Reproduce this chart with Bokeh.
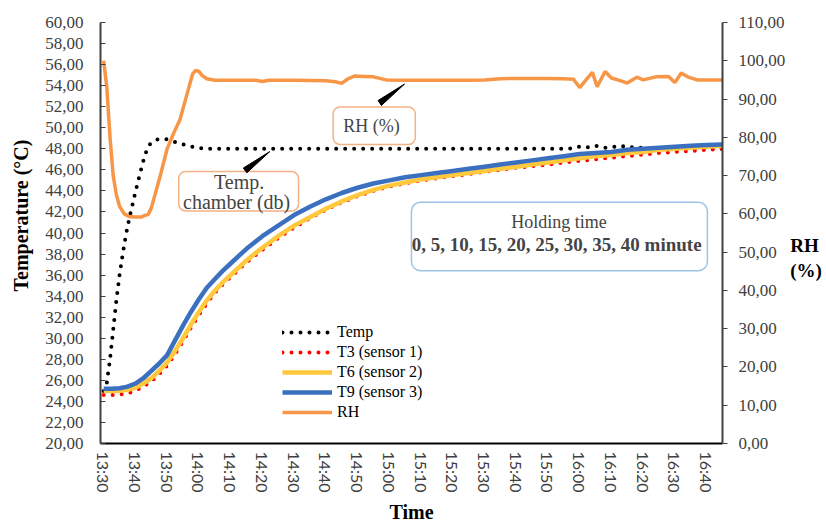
from bokeh.plotting import figure
from bokeh.models import (Range1d, LinearAxis, FixedTicker, Legend, LegendItem,
                          BoxAnnotation, Label, PolyAnnotation)
from bokeh.embed import file_html
from bokeh.resources import INLINE

# ---------------- data (minutes after 13:30) ----------------
TIME_TICKS = list(range(0, 200, 10))
TIME_LABELS = ["13:30", "13:40", "13:50", "14:00", "14:10", "14:20", "14:30",
               "14:40", "14:50", "15:00", "15:10", "15:20", "15:30", "15:40",
               "15:50", "16:00", "16:10", "16:20", "16:30", "16:40"]
TEMP_TICKS = list(range(20, 61, 2))
RH_TICKS = list(range(0, 111, 10))

TEMP_MIN = [0, 1, 2, 3, 4, 5, 6, 7, 8, 9, 10, 11, 12, 13, 14, 15, 17, 20, 24, 28, 32,
            40, 50, 60, 70, 80, 90, 100, 110, 120, 130, 140,
            145, 148, 150, 152, 155, 158, 160, 163, 165, 168, 170, 175, 180, 185, 190, 195]
TEMP_VAL = [25.0, 25.8, 28.0, 30.8, 33.6, 36.0, 38.0, 39.8, 41.3, 42.6, 43.9, 45.1, 46.3, 47.4, 48.2, 48.6,
            48.9, 48.9, 48.5, 48.2, 48.0,
            48.0, 48.0, 48.0, 48.0, 48.0, 48.0, 48.0, 48.0, 48.0, 48.0, 48.0,
            48.0, 48.05, 48.2, 48.1, 48.3, 48.1, 48.15, 48.3, 48.1, 48.2, 48.05, 48.0, 48.0, 48.0, 48.0, 48.0]

SENSOR_MIN = [0, 2.5, 5, 7.5, 10, 12.5, 15, 17.5, 20, 22.5, 25, 27.5, 30, 32.5, 35, 37.5,
              40, 42.5, 45, 47.5, 50,
              55, 60, 65, 70, 75, 80, 85, 90, 95, 100, 105, 110, 115, 120, 125, 130,
              135, 140, 145, 150, 155, 160, 165, 170, 175, 180, 185, 190, 195]
T3 = [24.6, 24.6, 24.65, 24.75, 25.0, 25.4, 25.9, 26.6, 27.4, 28.5, 29.7, 31.0, 32.2, 33.3, 34.3, 35.1,
      35.8, 36.5, 37.2, 37.8, 38.4,
      39.5, 40.5, 41.4, 42.2, 42.9, 43.5, 44.0, 44.4, 44.7, 45.0, 45.2, 45.4, 45.6, 45.8, 46.0, 46.2,
      46.35, 46.5, 46.7, 46.85, 47.0, 47.15, 47.3, 47.45, 47.6, 47.7, 47.8, 47.9, 48.0]
T6 = [25.0, 25.0, 25.0, 25.1, 25.3, 25.7, 26.2, 26.9, 27.7, 28.8, 30.0, 31.3, 32.5, 33.6, 34.5, 35.3,
      36.0, 36.7, 37.4, 38.0, 38.6,
      39.7, 40.7, 41.5, 42.3, 43.0, 43.6, 44.1, 44.5, 44.8, 45.1, 45.3, 45.5, 45.7, 45.9, 46.1, 46.3,
      46.5, 46.7, 46.9, 47.1, 47.3, 47.4, 47.6, 47.7, 47.9, 48.0, 48.1, 48.2, 48.3]
T9 = [25.2, 25.2, 25.25, 25.4, 25.7, 26.2, 26.9, 27.6, 28.4, 29.8, 31.2, 32.5, 33.7, 34.8, 35.6, 36.4,
      37.1, 37.8, 38.5, 39.1, 39.7,
      40.7, 41.7, 42.5, 43.2, 43.8, 44.3, 44.7, 45.0, 45.3, 45.5, 45.7, 45.9, 46.1, 46.3, 46.5, 46.7,
      46.9, 47.1, 47.3, 47.5, 47.6, 47.7, 47.9, 48.0, 48.1, 48.2, 48.3, 48.35, 48.4]

RH_MIN = [0, 1, 2, 3, 4, 5, 6.5, 8, 10, 12,
          13, 14, 15, 16, 17, 18, 20, 22, 24, 26,
          27, 28, 29, 30, 31, 32.5, 35, 40, 45, 48,
          50, 52, 60, 70, 73, 75, 77, 79, 82, 85,
          87, 89, 95, 105, 115, 120, 125, 130, 140, 145,
          148, 150, 152, 154, 155.5, 158, 160, 162, 165, 168,
          170, 174, 178, 180, 182, 184, 187, 195]
RH_VAL = [100, 93, 80, 70, 65, 62, 60, 59.3, 59.2, 59.2,
          59.6, 59.8, 61.5, 64.5, 67.5, 70.5, 77, 81, 84.5, 90.5,
          93.5, 96.5, 97.5, 97.2, 96.2, 95.3, 94.9, 94.9, 94.9, 94.9,
          94.6, 94.9, 94.9, 94.8, 94.5, 94.1, 95.3, 96.0, 95.9, 95.8,
          95.4, 95.0, 94.9, 94.9, 94.9, 95.0, 95.3, 95.4, 95.4, 95.3,
          95.2, 93.0, 95.0, 97.0, 93.2, 97.2, 95.5, 95.0, 94.2, 95.7,
          95.0, 95.8, 95.9, 94.3, 96.8, 95.8, 95.0, 95.0]

SERIF = "Liberation Serif"
GRAY = "#404040"

p = figure(width=824, height=525, x_range=Range1d(-1, 195), y_range=Range1d(20, 60),
           output_backend="svg", toolbar_location=None,
           min_border_left=100, min_border_right=99, min_border_top=22, min_border_bottom=79)
p.extra_y_ranges = {"rh": Range1d(0, 110)}
p.xgrid.visible = False
p.ygrid.visible = False
p.outline_line_color = None
p.background_fill_color = "white"
p.border_fill_color = "white"

# bottom axis
xa = p.xaxis[0]
xa.ticker = FixedTicker(ticks=TIME_TICKS)
xa.major_label_overrides = {t: l for t, l in zip(TIME_TICKS, TIME_LABELS)}
xa.major_label_orientation = "vertical"
xa.major_tick_out = 0
xa.major_tick_in = 0
xa.minor_tick_line_color = None
xa.axis_line_color = "black"
xa.axis_line_width = 2
xa.major_label_text_font = "Lato"
xa.major_label_text_font_size = "16px"
xa.major_label_text_color = GRAY
xa.major_label_standoff = 8
xa.axis_label = "Time"
xa.axis_label_text_font = SERIF
xa.axis_label_text_font_style = "bold"
xa.axis_label_text_font_size = "20px"
xa.axis_label_text_color = "black"
xa.axis_label_standoff = 5

# left axis
ya = p.yaxis[0]
ya.ticker = FixedTicker(ticks=TEMP_TICKS)
ya.major_label_overrides = {t: f"{t:.2f}".replace(".", ",") for t in TEMP_TICKS}
ya.major_tick_in = 5
ya.major_tick_out = 0
ya.major_tick_line_color = GRAY
ya.minor_tick_line_color = None
ya.axis_line_color = GRAY
ya.axis_line_width = 2
ya.major_label_text_font = SERIF
ya.major_label_text_font_size = "17px"
ya.major_label_text_color = GRAY
ya.major_label_standoff = 17
ya.axis_label = "\u2002\u2002\u2002\u2002Temperature  (°C)"
ya.axis_label_text_font = SERIF
ya.axis_label_text_font_style = "bold"
ya.axis_label_text_font_size = "20px"
ya.axis_label_text_color = "black"
ya.axis_label_standoff = 10

# right axis
ra = LinearAxis(y_range_name="rh", ticker=FixedTicker(ticks=RH_TICKS))
ra.major_label_overrides = {t: f"{t:.2f}".replace(".", ",") for t in RH_TICKS}
ra.major_tick_in = 0
ra.major_tick_out = 5
ra.major_tick_line_color = GRAY
ra.minor_tick_line_color = None
ra.axis_line_color = GRAY
ra.axis_line_width = 2
ra.major_label_text_font = SERIF
ra.major_label_text_font_size = "17px"
ra.major_label_text_color = GRAY
ra.major_label_standoff = 11
ra.axis_label = "\u00a0\n\u00a0\nRH\n(%)"
ra.axis_label_orientation = "horizontal"
ra.axis_label_text_font = SERIF
ra.axis_label_text_font_style = "bold"
ra.axis_label_text_font_size = "19px"
ra.axis_label_text_color = "black"
ra.axis_label_standoff = 2
p.add_layout(ra, "right")

# series (Excel drawing order)
r_temp = p.line(TEMP_MIN, TEMP_VAL, line_color="black", line_width=4,
                line_dash="0 9", line_cap="round")
r_t3 = p.line(SENSOR_MIN, T3, line_color="#FF0000", line_width=4,
              line_dash="0 9", line_cap="round")
r_t6 = p.line(SENSOR_MIN, T6, line_color="#FFC83D", line_width=4.5)
r_t9 = p.line(SENSOR_MIN, T9, line_color="#3A70BF", line_width=4.5)
r_rh = p.line(RH_MIN, RH_VAL, line_color="#F79646", line_width=3.5, y_range_name="rh")

# callout boxes
BOX_KW = dict(fill_color="white", fill_alpha=1, line_alpha=1, line_width=1.5)
p.add_layout(BoxAnnotation(left=72.3, right=98.2, top=51.98, bottom=48.4,
                           line_color="#F4B183", border_radius=7, **BOX_KW))
p.add_layout(Label(x=85.1, y=50.19, text="RH  (%)", text_align="center",
                   text_baseline="middle", text_font=SERIF, text_font_size="18px"))
p.add_layout(PolyAnnotation(xs=[86.46, 87.52, 94.8], ys=[52.59, 52.12, 54.15],
                            fill_color="black", fill_alpha=1, line_color="black",
                            line_alpha=1, line_width=1))

p.add_layout(BoxAnnotation(left=23.65, right=61.4, top=45.85, bottom=42.08,
                           line_color="#F4B183", border_radius=7, **BOX_KW))
p.add_layout(Label(x=42.7, y=44.81, text="Temp.", text_align="center",
                   text_baseline="middle", text_font=SERIF, text_font_size="20px"))
p.add_layout(Label(x=42.7, y=42.92, text="chamber  (db)", text_align="center",
                   text_baseline="middle", text_font=SERIF, text_font_size="20px"))
p.add_layout(PolyAnnotation(xs=[44.0, 45.12, 52.36], ys=[46.17, 45.72, 47.74],
                            fill_color="black", fill_alpha=1, line_color="black",
                            line_alpha=1, line_width=1))

p.add_layout(BoxAnnotation(left=96.98, right=190.25, top=42.92, bottom=36.42,
                           line_color="#9DC3E6", border_radius=9, **BOX_KW))
p.add_layout(Label(x=143.5, y=41.04, text="Holding time", text_align="center",
                   text_baseline="middle", text_font=SERIF, text_font_size="18px"))
p.add_layout(Label(x=143.5, y=38.87, text="0, 5, 10, 15, 20, 25, 30, 35, 40  minute",
                   text_align="center", text_baseline="middle", text_font=SERIF,
                   text_font_size="19px", text_font_style="bold"))

legend = Legend(items=[
    LegendItem(label="Temp", renderers=[r_temp]),
    LegendItem(label="T3 (sensor 1)", renderers=[r_t3]),
    LegendItem(label="T6 (sensor 2)", renderers=[r_t6]),
    LegendItem(label="T9 (sensor 3)", renderers=[r_t9]),
    LegendItem(label="RH", renderers=[r_rh]),
], location=(182, 22))
legend.label_text_font = SERIF
legend.label_text_font_size = "16px"
legend.label_text_color = "black"
legend.glyph_width = 50
legend.glyph_height = 16
legend.label_height = 16
legend.spacing = 2
legend.padding = 3
legend.margin = 0
legend.label_standoff = 5
legend.border_line_color = None
legend.background_fill_color = "white"
legend.background_fill_alpha = 1
p.add_layout(legend)

open("out.html", "w").write(file_html(p, INLINE))
